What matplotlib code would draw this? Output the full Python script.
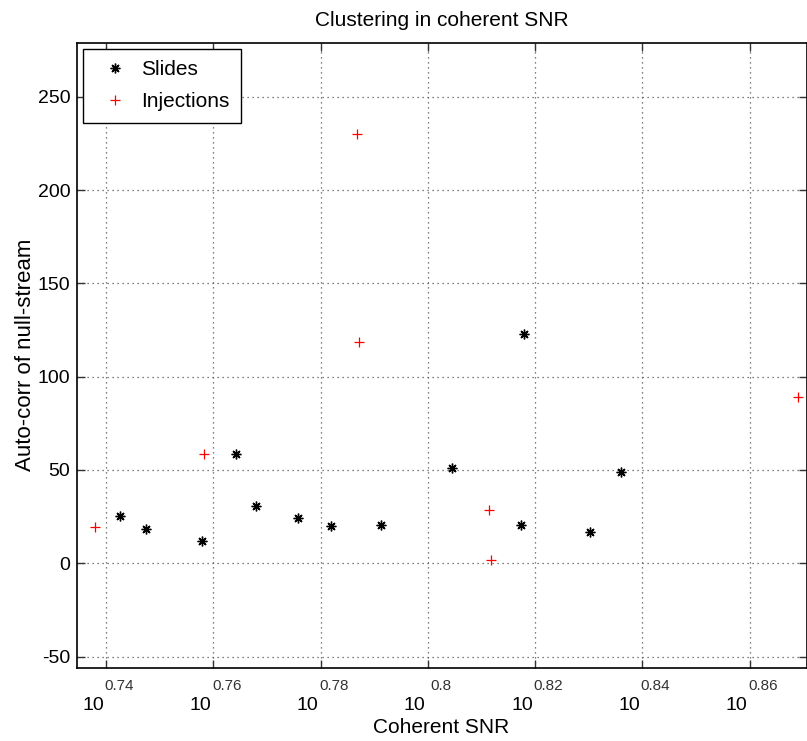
#!/usr/bin/env python3
"""Clustering in coherent SNR: slides vs injections (log-x scatter, MATLAB style)"""

import matplotlib
matplotlib.use("Agg")
import matplotlib.pyplot as plt
import matplotlib.ticker as ticker

plt.rcParams["font.family"] = ["Liberation Sans", "DejaVu Sans"]
plt.rcParams["axes.unicode_minus"] = False

# Slides (black asterisks)
SLIDES_X = [5.529, 5.590, 5.725, 5.811, 5.860, 5.966, 6.052, 6.185, 6.376,
            6.566, 6.575, 6.764, 6.856]
SLIDES_Y = [25.3, 18.2, 11.9, 58.4, 30.7, 24.1, 19.8, 20.5, 50.9,
            20.4, 122.7, 16.8, 49.1]

# Injections (red plus)
INJ_X = [5.470, 5.732, 6.120, 6.126, 6.476, 6.482, 7.396]
INJ_Y = [19.3, 58.4, 230.3, 118.4, 28.4, 1.8, 88.9]

# log10 of x tick positions
XTICK_EXP = [0.74, 0.76, 0.78, 0.80, 0.82, 0.84, 0.86]
XTICK_LABELS = ["0.74", "0.76", "0.78", "0.8", "0.82", "0.84", "0.86"]
YTICKS = [-50, 0, 50, 100, 150, 200, 250]

W, H = 807, 741
fig = plt.figure(figsize=(W / 100, H / 100), dpi=100)
ax = fig.add_axes([76.7 / W, 73.3 / H, (806.5 - 76.7) / W, (667.7 - 42.7) / H])

ax.plot(SLIDES_X, SLIDES_Y, ls="none", marker=(8, 2, 0), ms=7, mew=1.0,
        color="black", label="Slides")
ax.plot(INJ_X, INJ_Y, ls="none", marker="+", ms=6.5, mew=0.9,
        color="red", label="Injections")

ax.set_xscale("log")
ax.set_xlim(10 ** 0.7345, 10 ** 0.8706)
ax.set_ylim(-56, 279)

xticks = [10 ** e for e in XTICK_EXP]
ax.xaxis.set_major_locator(ticker.FixedLocator(xticks))
ax.xaxis.set_minor_locator(ticker.NullLocator())
ax.xaxis.set_major_formatter(ticker.NullFormatter())
ax.set_yticks(YTICKS)

ax.tick_params(direction="in", length=6, width=1, top=True, right=True,
               labelsize=14, pad=4.5, color="#333333")
ax.grid(True, ls=(0, (1, 3)), lw=0.9, color="#555555")
for sp in ax.spines.values():
    sp.set_linewidth(1.2)

# MATLAB-style "10^x" tick labels
for xv, lab in zip(xticks, XTICK_LABELS):
    ax.annotate("10", xy=(xv, 0), xycoords=("data", "axes fraction"),
                xytext=(-9.5, -27), textcoords="offset points",
                ha="center", va="center", fontsize=14)
    ax.annotate(lab, xy=(xv, 0), xycoords=("data", "axes fraction"),
                xytext=(9.5, -13.5), textcoords="offset points",
                ha="center", va="center", fontsize=11, color="#333333")

ax.set_xlabel("Coherent SNR", fontsize=15, labelpad=32)
ax.set_ylabel("Auto-corr of null-stream", fontsize=16, labelpad=1.5)
ax.set_title("Clustering in coherent SNR", fontsize=15, pad=12)

leg = ax.legend(loc="upper left", fontsize=15, fancybox=False, framealpha=1,
                edgecolor="black", borderaxespad=0.3, handletextpad=0.25,
                borderpad=0.55, labelspacing=0.62)
leg.get_frame().set_linewidth(1.0)

fig.savefig("out.png", dpi=100)
